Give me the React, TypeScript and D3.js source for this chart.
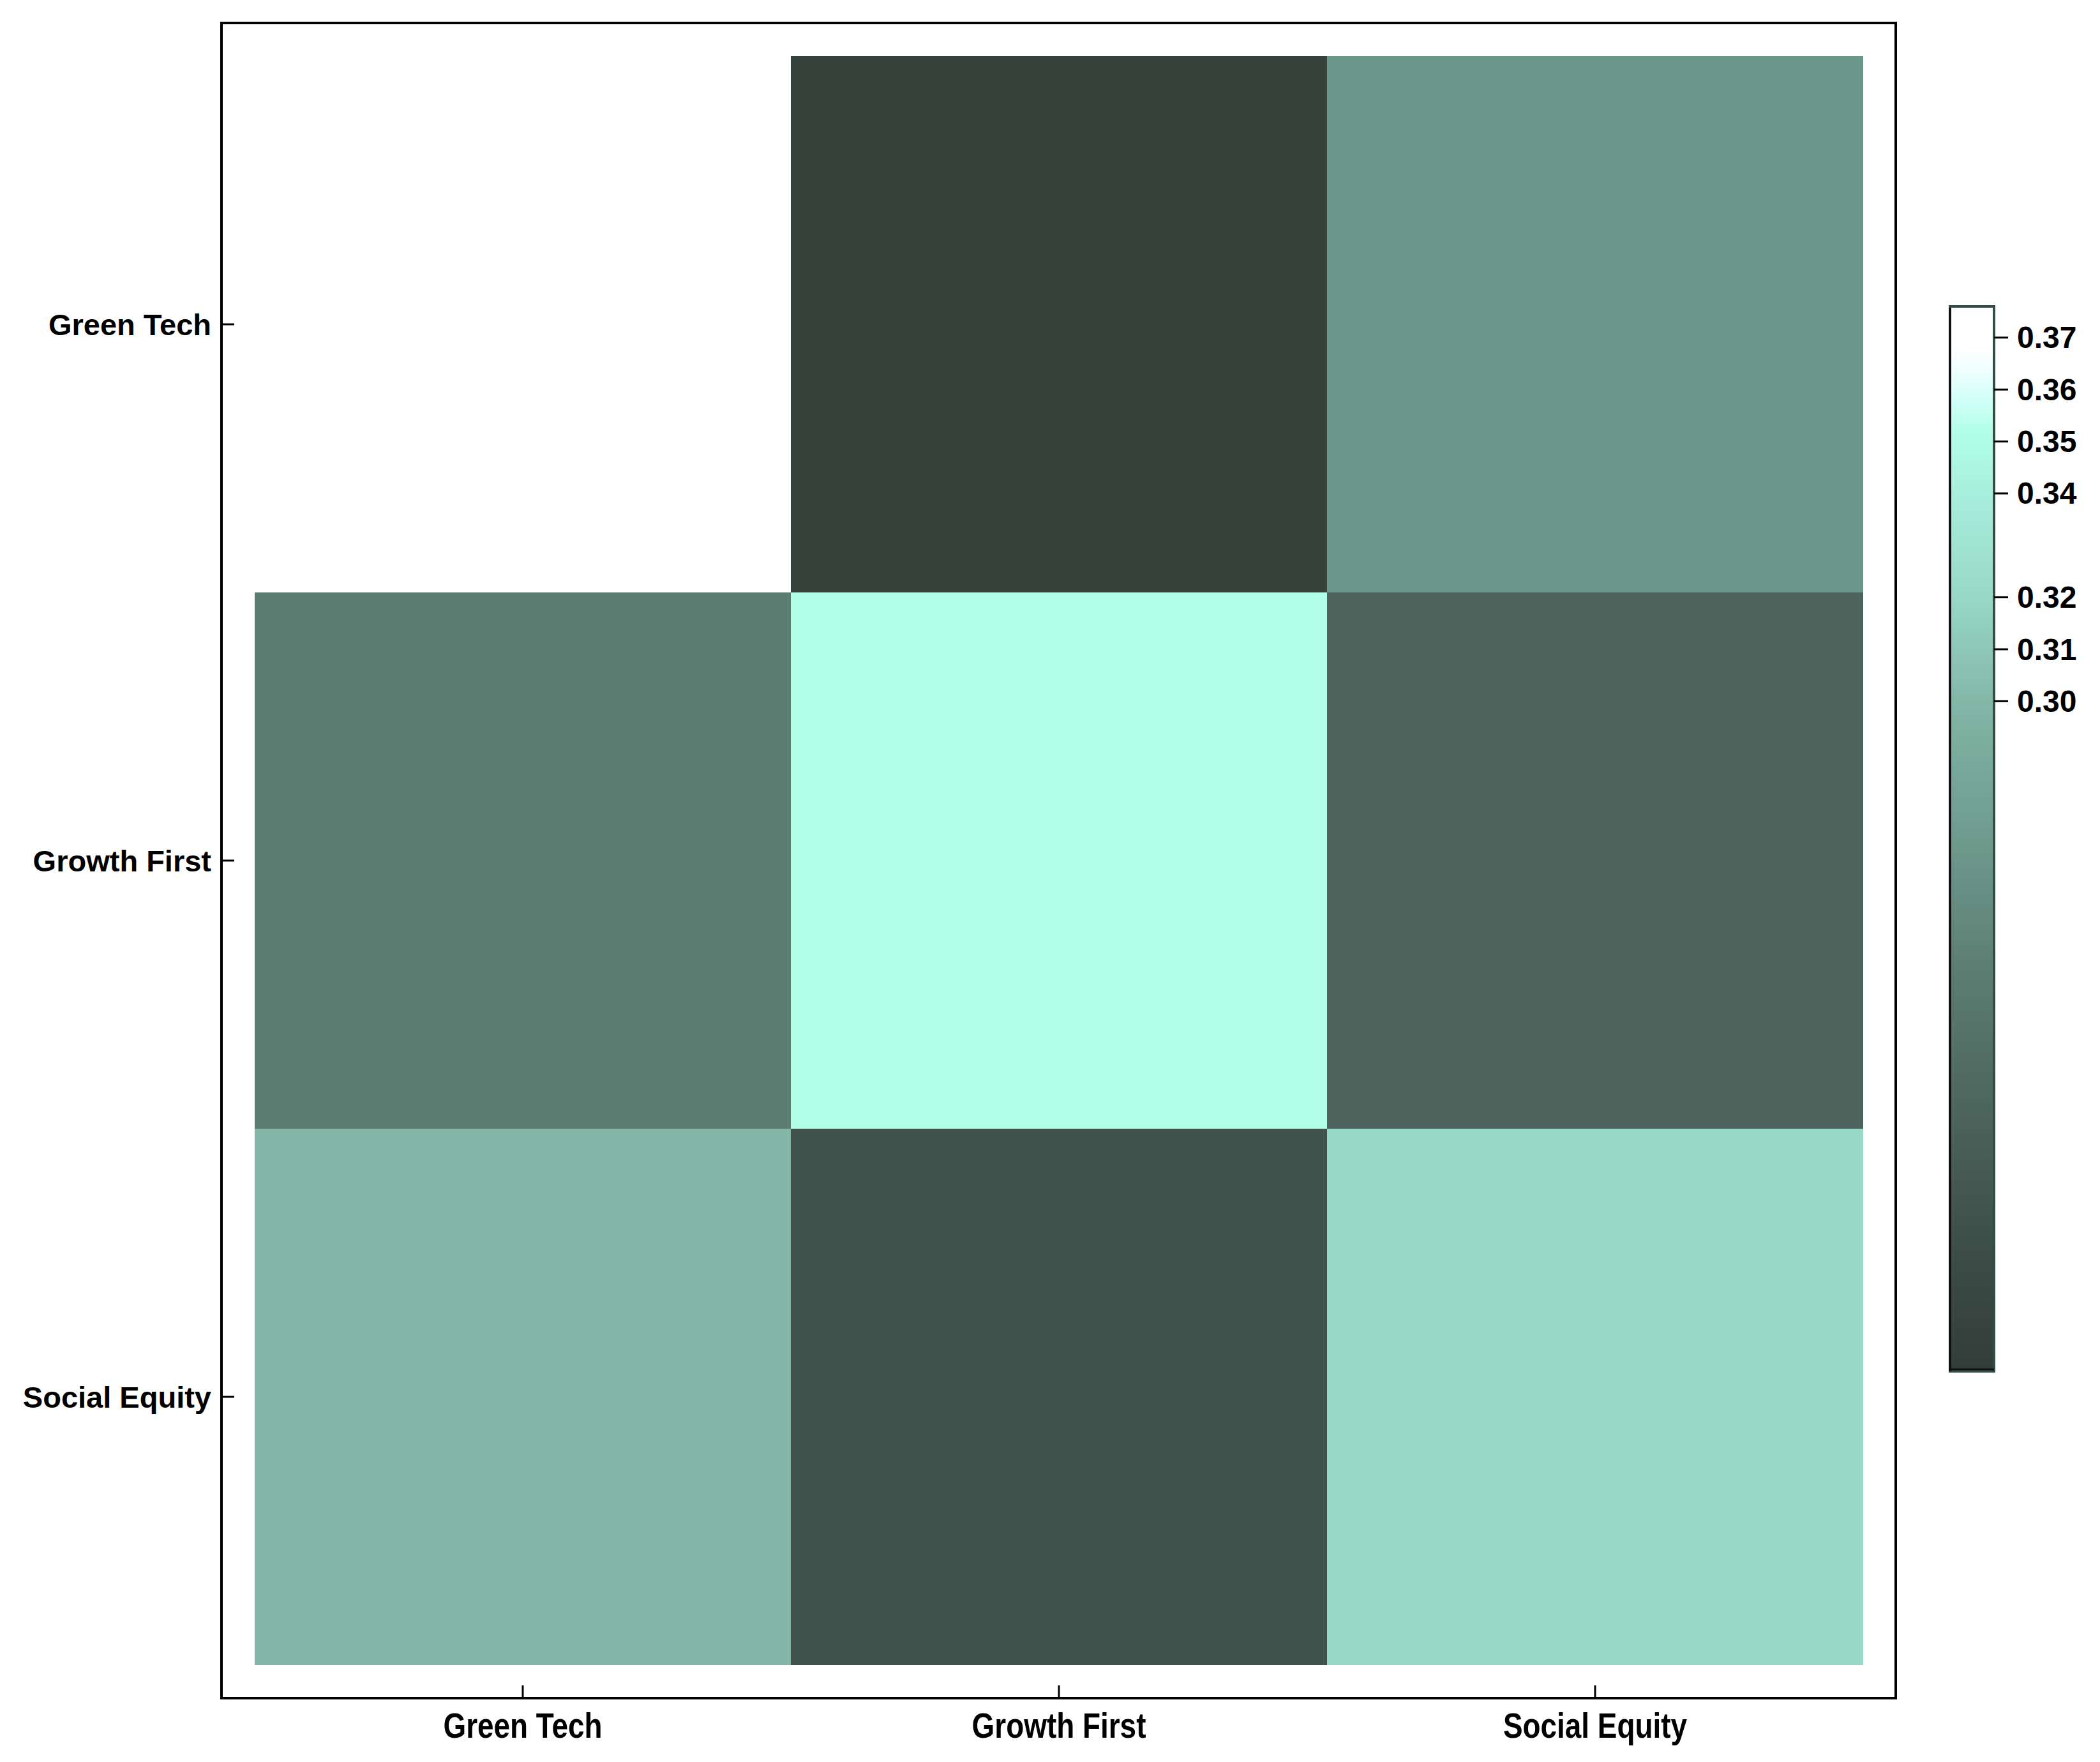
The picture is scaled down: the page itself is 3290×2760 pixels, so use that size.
import React from 'react';
import * as d3 from 'd3';

// categories, row-major values (rows = y, cols = x)
const categories = ['Green Tech', 'Growth First', 'Social Equity'];
const values = [
  [0.376, 0.178, 0.27],
  [0.247, 0.352, 0.22],
  [0.3, 0.2, 0.32],
];
const colorTicks = [0.3, 0.31, 0.32, 0.34, 0.35, 0.36, 0.37];
const colorDomain = [0.171, 0.376];

// colour ramp stops (value -> colour)
const rampValues = [0.171, 0.19, 0.21, 0.23, 0.25, 0.27, 0.29, 0.3, 0.32, 0.34, 0.352, 0.36, 0.367, 0.376];
const rampColors = ['#323d38', '#3b4a44', '#465a53', '#516d63', '#5e7f74', '#6b978a', '#7aab9c',
  '#83b7a7', '#98d8c6', '#a7efdc', '#b2ffe8', '#dcfffb', '#ffffff', '#ffffff'];

const W = 3274;
const H = 2744;
// page coordinates; the group below undoes the 8px body margin
const frame = { x0: 347, y0: 36, x1: 2970, y1: 2660 };
const cells = { x0: 399, y0: 88, x1: 2919, y1: 2608 };
const cbar = { x0: 3055, x1: 3124, y0: 480, y1: 2148 };

const App = () => {
  const x = d3.scaleBand().domain(categories).range([cells.x0, cells.x1]).padding(0);
  const y = d3.scaleBand().domain(categories).range([cells.y0, cells.y1]).padding(0);
  const color = d3.scaleLinear<string>().domain(rampValues).range(rampColors).clamp(true);
  const cy = d3.scaleLinear().domain(colorDomain).range([cbar.y1, cbar.y0]);

  const gradStops = d3.range(0, 1.0001, 0.02).map(t => {
    const v = colorDomain[0] + t * (colorDomain[1] - colorDomain[0]);
    return { offset: `${t * 100}%`, c: color(v) };
  });

  const font = '"Liberation Sans", Arial, sans-serif';

  return (
    <svg width={W} height={H} style={{ display: 'block', background: '#fff' }}>
      <defs>
        <linearGradient id="cb" x1="0" y1="1" x2="0" y2="0">
          {gradStops.map((s, i) => (
            <stop key={i} offset={s.offset} stopColor={s.c} />
          ))}
        </linearGradient>
      </defs>

      <g transform="translate(-8,-8)">
        {/* heatmap cells */}
        {values.map((row, ri) =>
          row.map((v, ci) => (
            <rect
              key={`${ri}-${ci}`}
              x={x(categories[ci])}
              y={y(categories[ri])}
              width={x.bandwidth()}
              height={y.bandwidth()}
              fill={color(v)}
            />
          ))
        )}

        {/* frame */}
        <rect x={frame.x0} y={frame.y0} width={frame.x1 - frame.x0} height={frame.y1 - frame.y0}
          fill="none" stroke="#000" strokeWidth={4} />

        {/* y axis ticks + labels */}
        {categories.map(c => {
          const yy = (y(c) as number) + y.bandwidth() / 2;
          return (
            <g key={`y-${c}`}>
              <line x1={frame.x0} x2={frame.x0 + 20} y1={yy} y2={yy} stroke="#000" strokeWidth={3} />
              <text x={frame.x0 - 16} y={yy} textAnchor="end" dominantBaseline="central"
                fontFamily={font} fontWeight="bold" fontSize={47} fill="#000">{c}</text>
            </g>
          );
        })}

        {/* x axis ticks + labels */}
        {categories.map(c => {
          const xx = (x(c) as number) + x.bandwidth() / 2;
          return (
            <g key={`x-${c}`}>
              <line x1={xx} x2={xx} y1={frame.y1} y2={frame.y1 - 20} stroke="#000" strokeWidth={3} />
              <g transform={`translate(${xx},2722) scale(0.82,1)`}>
                <text x={0} y={0} textAnchor="middle" fontFamily={font} fontWeight="bold"
                  fontSize={56} fill="#000">{c}</text>
              </g>
            </g>
          );
        })}

        {/* colour bar */}
        <rect x={cbar.x0} y={cbar.y0} width={cbar.x1 - cbar.x0} height={cbar.y1 - cbar.y0}
          fill="url(#cb)" stroke="#2f4f45" strokeWidth={4} />
        <line x1={cbar.x0} x2={cbar.x0} y1={cbar.y0 + 2} y2={cbar.y1} stroke="#111" strokeWidth={4} />
        <line x1={cbar.x0} x2={cbar.x1} y1={cbar.y1 - 3} y2={cbar.y1 - 3} stroke="#111" strokeWidth={3} />
        {colorTicks.map(t => (
          <g key={`cb-${t}`}>
            <line x1={cbar.x1} x2={cbar.x1 + 22} y1={cy(t)} y2={cy(t)} stroke="#000" strokeWidth={3} />
            <text x={cbar.x1 + 36} y={cy(t)} dominantBaseline="central" fontFamily={font}
              fontWeight="bold" fontSize={48} fill="#000">{d3.format('.2f')(t)}</text>
          </g>
        ))}
      </g>
    </svg>
  );
};

export default App;
